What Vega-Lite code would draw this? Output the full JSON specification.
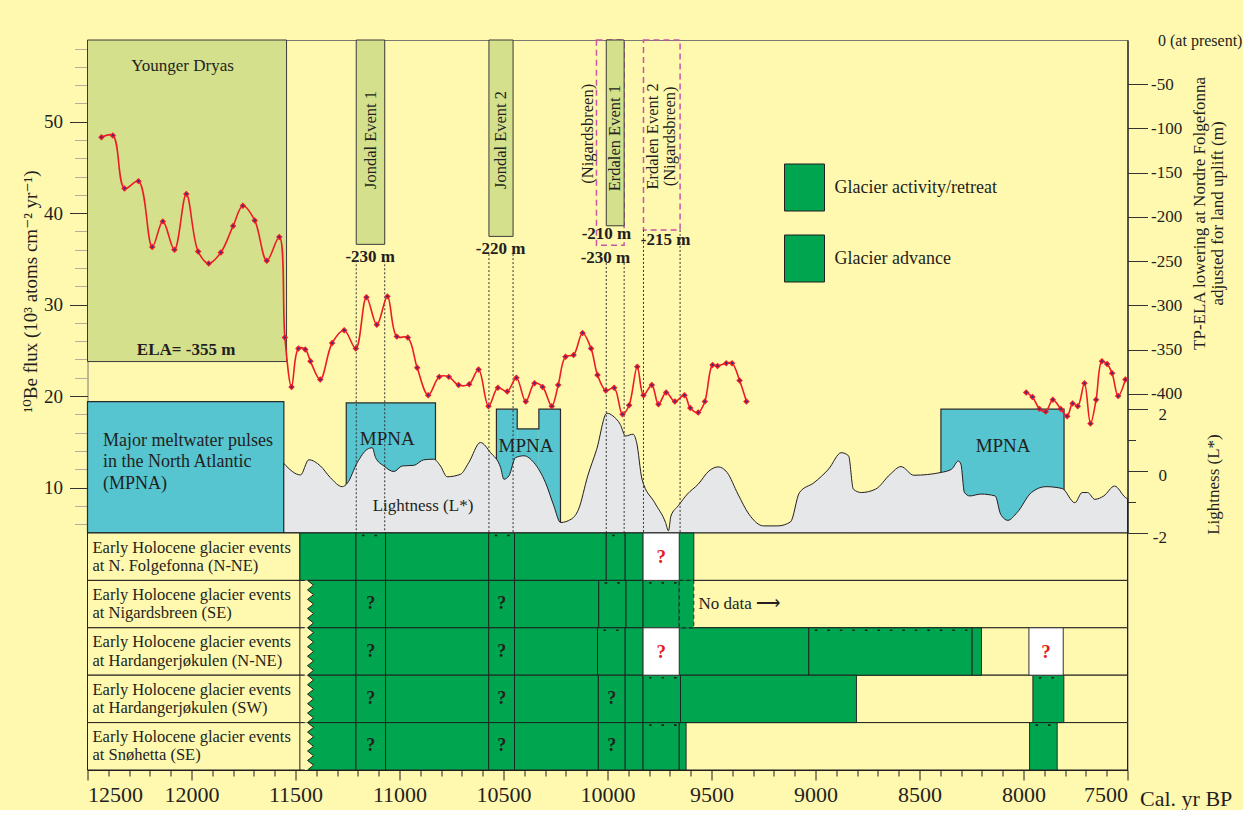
{
  "$schema": "https://vega.github.io/schema/vega-lite/v6.json",
  "background": "#FFF8AF",
  "padding": {"left": 20.5, "top": 31, "right": 0, "bottom": 0},
  "spacing": 0,
  "bounds": "flush",
  "config": {
    "view": {"stroke": "#7a7a72", "strokeWidth": 1},
    "font": "Liberation Serif",
    "text": {"font": "Liberation Serif", "color": "#231F20"}
  },
  "resolve": {"scale": {"y": "independent", "x": "independent", "color": "independent"}},
  "datasets": {
    "flux": [
      {"seg": "A", "year": 12433, "flux": 48.3}, {"seg": "A", "year": 12378, "flux": 48.5},
      {"seg": "A", "year": 12322, "flux": 42.7}, {"seg": "A", "year": 12255, "flux": 43.5},
      {"seg": "A", "year": 12189, "flux": 36.3}, {"seg": "A", "year": 12138, "flux": 39.1},
      {"seg": "A", "year": 12082, "flux": 36.0}, {"seg": "A", "year": 12025, "flux": 42.1},
      {"seg": "A", "year": 11968, "flux": 35.8}, {"seg": "A", "year": 11917, "flux": 34.5},
      {"seg": "A", "year": 11859, "flux": 35.7}, {"seg": "A", "year": 11800, "flux": 38.6},
      {"seg": "A", "year": 11753, "flux": 40.8}, {"seg": "A", "year": 11696, "flux": 39.2},
      {"seg": "A", "year": 11638, "flux": 34.8}, {"seg": "A", "year": 11578, "flux": 37.4},
      {"seg": "A", "year": 11551, "flux": 26.4}, {"seg": "A", "year": 11519, "flux": 21.0},
      {"seg": "A", "year": 11486, "flux": 25.2}, {"seg": "A", "year": 11453, "flux": 25.1},
      {"seg": "A", "year": 11428, "flux": 23.8}, {"seg": "A", "year": 11381, "flux": 21.8},
      {"seg": "A", "year": 11324, "flux": 25.8}, {"seg": "A", "year": 11266, "flux": 27.2},
      {"seg": "A", "year": 11210, "flux": 25.2}, {"seg": "A", "year": 11159, "flux": 30.8},
      {"seg": "A", "year": 11109, "flux": 27.8}, {"seg": "A", "year": 11058, "flux": 30.9},
      {"seg": "A", "year": 11013, "flux": 26.5}, {"seg": "A", "year": 10960, "flux": 26.4},
      {"seg": "A", "year": 10915, "flux": 23.1}, {"seg": "A", "year": 10862, "flux": 20.1},
      {"seg": "A", "year": 10809, "flux": 22.1}, {"seg": "A", "year": 10763, "flux": 22.1},
      {"seg": "A", "year": 10716, "flux": 21.2}, {"seg": "A", "year": 10665, "flux": 21.3},
      {"seg": "A", "year": 10620, "flux": 22.9}, {"seg": "A", "year": 10572, "flux": 18.9},
      {"seg": "A", "year": 10527, "flux": 20.9}, {"seg": "A", "year": 10482, "flux": 20.5},
      {"seg": "A", "year": 10438, "flux": 22.0}, {"seg": "A", "year": 10393, "flux": 19.4},
      {"seg": "A", "year": 10351, "flux": 21.4}, {"seg": "A", "year": 10312, "flux": 21.0},
      {"seg": "A", "year": 10268, "flux": 18.9}, {"seg": "A", "year": 10237, "flux": 21.2},
      {"seg": "A", "year": 10202, "flux": 24.3}, {"seg": "A", "year": 10163, "flux": 24.5},
      {"seg": "A", "year": 10120, "flux": 26.9}, {"seg": "A", "year": 10079, "flux": 25.2},
      {"seg": "A", "year": 10048, "flux": 22.3}, {"seg": "A", "year": 10008, "flux": 20.6},
      {"seg": "A", "year": 9968, "flux": 20.9}, {"seg": "A", "year": 9928, "flux": 18.0},
      {"seg": "A", "year": 9896, "flux": 19.0}, {"seg": "A", "year": 9857, "flux": 23.2},
      {"seg": "A", "year": 9827, "flux": 20.1}, {"seg": "A", "year": 9787, "flux": 21.2},
      {"seg": "A", "year": 9755, "flux": 19.1}, {"seg": "A", "year": 9718, "flux": 20.4},
      {"seg": "A", "year": 9676, "flux": 19.4}, {"seg": "A", "year": 9630, "flux": 20.1},
      {"seg": "A", "year": 9602, "flux": 18.7}, {"seg": "A", "year": 9564, "flux": 18.2},
      {"seg": "A", "year": 9532, "flux": 19.4}, {"seg": "A", "year": 9495, "flux": 23.4},
      {"seg": "A", "year": 9471, "flux": 23.3}, {"seg": "A", "year": 9429, "flux": 23.6},
      {"seg": "A", "year": 9401, "flux": 23.6}, {"seg": "A", "year": 9365, "flux": 21.7},
      {"seg": "A", "year": 9332, "flux": 19.4},
      {"seg": "B", "year": 7987, "flux": 20.4}, {"seg": "B", "year": 7957, "flux": 19.9},
      {"seg": "B", "year": 7923, "flux": 18.6}, {"seg": "B", "year": 7893, "flux": 18.3},
      {"seg": "B", "year": 7859, "flux": 19.6}, {"seg": "B", "year": 7821, "flux": 18.6},
      {"seg": "B", "year": 7790, "flux": 17.8}, {"seg": "B", "year": 7764, "flux": 19.2},
      {"seg": "B", "year": 7739, "flux": 18.9}, {"seg": "B", "year": 7707, "flux": 21.4},
      {"seg": "B", "year": 7678, "flux": 17.0}, {"seg": "B", "year": 7651, "flux": 19.6},
      {"seg": "B", "year": 7623, "flux": 23.8}, {"seg": "B", "year": 7598, "flux": 23.5},
      {"seg": "B", "year": 7574, "flux": 22.5}, {"seg": "B", "year": 7545, "flux": 20.0},
      {"seg": "B", "year": 7510, "flux": 21.8}
    ],
    "lightness": [
      {"year": 11556, "L": 0.24}, {"year": 11476, "L": -0.13}, {"year": 11436, "L": 0.36},
      {"year": 11380, "L": 0.16}, {"year": 11332, "L": -0.22}, {"year": 11275, "L": -0.51},
      {"year": 11251, "L": -0.40}, {"year": 11203, "L": 0.27}, {"year": 11155, "L": 0.70},
      {"year": 11131, "L": 0.75}, {"year": 11115, "L": 0.43}, {"year": 11075, "L": 0.16},
      {"year": 11027, "L": -0.02}, {"year": 10987, "L": 0.16}, {"year": 10931, "L": 0.18},
      {"year": 10883, "L": 0.36}, {"year": 10835, "L": 0.38}, {"year": 10803, "L": 0.16},
      {"year": 10771, "L": -0.19}, {"year": 10707, "L": -0.11}, {"year": 10667, "L": 0.27},
      {"year": 10611, "L": 0.92}, {"year": 10562, "L": 0.59}, {"year": 10514, "L": 0.11},
      {"year": 10498, "L": -0.27}, {"year": 10474, "L": -0.16}, {"year": 10442, "L": 0.43},
      {"year": 10402, "L": 0.49}, {"year": 10354, "L": 0.27}, {"year": 10298, "L": -0.38},
      {"year": 10258, "L": -1.13}, {"year": 10226, "L": -1.67}, {"year": 10174, "L": -1.56},
      {"year": 10139, "L": -1.24}, {"year": 10095, "L": -0.16}, {"year": 10052, "L": 0.70},
      {"year": 10003, "L": 1.87}, {"year": 9974, "L": 1.78}, {"year": 9939, "L": 1.51},
      {"year": 9913, "L": 1.13}, {"year": 9877, "L": 1.19}, {"year": 9860, "L": 0.92},
      {"year": 9834, "L": -0.27}, {"year": 9773, "L": -1.03}, {"year": 9721, "L": -1.67},
      {"year": 9707, "L": -1.94}, {"year": 9695, "L": -1.46}, {"year": 9660, "L": -1.13},
      {"year": 9616, "L": -0.75}, {"year": 9564, "L": -0.43}, {"year": 9512, "L": 0.0},
      {"year": 9468, "L": 0.13}, {"year": 9425, "L": -0.05}, {"year": 9373, "L": -0.75},
      {"year": 9320, "L": -1.40}, {"year": 9250, "L": -1.78}, {"year": 9181, "L": -1.78},
      {"year": 9120, "L": -1.65}, {"year": 9077, "L": -0.70}, {"year": 9007, "L": -0.38},
      {"year": 8937, "L": 0.06}, {"year": 8876, "L": 0.59}, {"year": 8841, "L": 0.49},
      {"year": 8818, "L": -0.59}, {"year": 8780, "L": -0.70}, {"year": 8711, "L": -0.59},
      {"year": 8641, "L": -0.11}, {"year": 8589, "L": 0.14}, {"year": 8527, "L": -0.14},
      {"year": 8397, "L": -0.05}, {"year": 8345, "L": 0.06}, {"year": 8313, "L": 0.32},
      {"year": 8301, "L": 0.22}, {"year": 8284, "L": -0.70}, {"year": 8258, "L": -0.81},
      {"year": 8205, "L": -0.75}, {"year": 8136, "L": -0.81}, {"year": 8110, "L": -1.40},
      {"year": 8075, "L": -1.60}, {"year": 8031, "L": -1.35}, {"year": 7962, "L": -0.70},
      {"year": 7892, "L": -0.51}, {"year": 7814, "L": -0.57}, {"year": 7753, "L": -1.03},
      {"year": 7718, "L": -0.70}, {"year": 7692, "L": -0.70}, {"year": 7657, "L": -0.92},
      {"year": 7614, "L": -0.81}, {"year": 7562, "L": -0.49}, {"year": 7510, "L": -0.86},
      {"year": 7500, "L": -0.90}
    ],
    "mpnaFill": [
      {"year": 12500, "end": 11556, "L": 2.24},
      {"year": 11256, "end": 10827, "L": 2.20},
      {"year": 10534, "end": 10434, "L": 2.0},
      {"year": 10434, "end": 10330, "L": 1.36},
      {"year": 10330, "end": 10226, "L": 2.0},
      {"year": 8397, "end": 7805, "L": 2.0}
    ],
    "mpnaOutline": [
      {"box": 1, "ord": 1, "year": 12500, "L": -2.01}, {"box": 1, "ord": 2, "year": 12500, "L": 2.24},
      {"box": 1, "ord": 3, "year": 11556, "L": 2.24}, {"box": 1, "ord": 4, "year": 11556, "L": -2.01},
      {"box": 1, "ord": 5, "year": 12500, "L": -2.01},
      {"box": 2, "ord": 1, "year": 11256, "L": -2.01}, {"box": 2, "ord": 2, "year": 11256, "L": 2.20},
      {"box": 2, "ord": 3, "year": 10827, "L": 2.20}, {"box": 2, "ord": 4, "year": 10827, "L": -2.01},
      {"box": 3, "ord": 1, "year": 10534, "L": -2.01}, {"box": 3, "ord": 2, "year": 10534, "L": 2.0},
      {"box": 3, "ord": 3, "year": 10434, "L": 2.0}, {"box": 3, "ord": 4, "year": 10434, "L": 1.36},
      {"box": 3, "ord": 5, "year": 10330, "L": 1.36}, {"box": 3, "ord": 6, "year": 10330, "L": 2.0},
      {"box": 3, "ord": 7, "year": 10226, "L": 2.0}, {"box": 3, "ord": 8, "year": 10226, "L": -2.01},
      {"box": 4, "ord": 1, "year": 8397, "L": -2.01}, {"box": 4, "ord": 2, "year": 8397, "L": 2.0},
      {"box": 4, "ord": 3, "year": 7805, "L": 2.0}, {"box": 4, "ord": 4, "year": 7805, "L": -2.01}
    ],
    "mpnaLabels": [
      {"text": "MPNA", "year": 11059, "L": 1.04},
      {"text": "MPNA", "year": 10392, "L": 0.82},
      {"text": "MPNA", "year": 8098, "L": 0.82}
    ],
    "mpnaDesc": [
      {"text": "Major meltwater pulses", "year": 12425, "L": 0.98},
      {"text": "in the North Atlantic", "year": 12425, "L": 0.28},
      {"text": "(MPNA)", "year": 12425, "L": -0.42}
    ],
    "lightLabel": [{"text": "Lightness (L*)", "year": 10887, "L": -1.13}],
    "elaBoxes": [
      {"name": "Younger Dryas", "year": 12500, "end": 11543, "ela": -363.5},
      {"name": "Jondal Event 1", "year": 11208, "end": 11071, "ela": -231},
      {"name": "Jondal Event 2", "year": 10570, "end": 10454, "ela": -222},
      {"name": "Erdalen Event 1", "year": 10006, "end": 9920, "ela": -210}
    ],
    "dashedBoxes": [
      {"name": "Nigardsbreen", "year": 10053, "end": 9920, "ela": -232},
      {"name": "Erdalen Event 2 (Nigardsbreen)", "year": 9827, "end": 9651, "ela": -214.7}
    ],
    "eventLabels": [
      {"text": "Jondal Event 1", "year": 11139, "ela": -113},
      {"text": "Jondal Event 2", "year": 10510, "ela": -113},
      {"text": "Erdalen Event 1", "year": 9962, "ela": -111},
      {"text": "(Nigardsbreen)", "year": 10096, "ela": -106},
      {"text": "Erdalen Event 2", "year": 9780, "ela": -109},
      {"text": "(Nigardsbreen)", "year": 9699, "ela": -109}
    ],
    "boldLabels": [
      {"text": "-230 m", "year": 11141, "ela": -245},
      {"text": "-220 m", "year": 10514, "ela": -236},
      {"text": "-210 m", "year": 10005, "ela": -219},
      {"text": "-230 m", "year": 10010, "ela": -246.5},
      {"text": "-215 m", "year": 9721, "ela": -226},
      {"text": "ELA= -355 m", "year": 12026, "ela": -350}
    ],
    "plainLabels": [{"text": "Younger Dryas", "year": 12043, "ela": -29}],
    "dotted": [
      {"year": 11208, "ela": -249}, {"year": 11071, "ela": -249},
      {"year": 10570, "ela": -242}, {"year": 10454, "ela": -242},
      {"year": 10006, "ela": -252}, {"year": 9920, "ela": -252},
      {"year": 9827, "ela": -214.7}, {"year": 9651, "ela": -214.7}
    ],
    "rows": [
      {"row": "r1", "label": "Early Holocene glacier events\nat  N. Folgefonna (N-NE)"},
      {"row": "r2", "label": "Early Holocene glacier events\nat  Nigardsbreen (SE)"},
      {"row": "r3", "label": "Early Holocene glacier events\nat  Hardangerjøkulen (N-NE)"},
      {"row": "r4", "label": "Early Holocene glacier events\nat  Hardangerjøkulen (SW)"},
      {"row": "r5", "label": "Early Holocene glacier events\nat  Snøhetta (SE)"}
    ],
    "segs": [
      {"row": "r1", "year": 11479, "end": 11209, "kind": "Glacier activity/retreat"},
      {"row": "r1", "year": 11209, "end": 11067, "kind": "Glacier advance"},
      {"row": "r1", "year": 11067, "end": 10571, "kind": "Glacier activity/retreat"},
      {"row": "r1", "year": 10571, "end": 10447, "kind": "Glacier advance"},
      {"row": "r1", "year": 10447, "end": 10006, "kind": "Glacier activity/retreat"},
      {"row": "r1", "year": 10006, "end": 9915, "kind": "Glacier advance"},
      {"row": "r1", "year": 9915, "end": 9829, "kind": "Glacier activity/retreat"},
      {"row": "r1", "year": 9655, "end": 9585, "kind": "Glacier activity/retreat"},
      {"row": "r2", "year": 11442, "end": 11209, "kind": "Glacier activity/retreat"},
      {"row": "r2", "year": 11209, "end": 11067, "kind": "Glacier activity/retreat"},
      {"row": "r2", "year": 11067, "end": 10571, "kind": "Glacier activity/retreat"},
      {"row": "r2", "year": 10571, "end": 10447, "kind": "Glacier activity/retreat"},
      {"row": "r2", "year": 10447, "end": 10042, "kind": "Glacier activity/retreat"},
      {"row": "r2", "year": 10042, "end": 9911, "kind": "Glacier advance"},
      {"row": "r2", "year": 9911, "end": 9829, "kind": "Glacier activity/retreat"},
      {"row": "r2", "year": 9829, "end": 9655, "kind": "Glacier advance"},
      {"row": "r2", "year": 9655, "end": 9585, "kind": "Glacier activity/retreat", "open": true},
      {"row": "r3", "year": 11442, "end": 11209, "kind": "Glacier activity/retreat"},
      {"row": "r3", "year": 11209, "end": 11067, "kind": "Glacier activity/retreat"},
      {"row": "r3", "year": 11067, "end": 10571, "kind": "Glacier activity/retreat"},
      {"row": "r3", "year": 10571, "end": 10447, "kind": "Glacier activity/retreat"},
      {"row": "r3", "year": 10447, "end": 10048, "kind": "Glacier activity/retreat"},
      {"row": "r3", "year": 10048, "end": 9915, "kind": "Glacier advance"},
      {"row": "r3", "year": 9915, "end": 9829, "kind": "Glacier activity/retreat"},
      {"row": "r3", "year": 9655, "end": 9032, "kind": "Glacier activity/retreat"},
      {"row": "r3", "year": 9032, "end": 8247, "kind": "Glacier advance"},
      {"row": "r3", "year": 8247, "end": 8202, "kind": "Glacier activity/retreat"},
      {"row": "r4", "year": 11442, "end": 11209, "kind": "Glacier activity/retreat"},
      {"row": "r4", "year": 11209, "end": 11067, "kind": "Glacier activity/retreat"},
      {"row": "r4", "year": 11067, "end": 10571, "kind": "Glacier activity/retreat"},
      {"row": "r4", "year": 10571, "end": 10447, "kind": "Glacier activity/retreat"},
      {"row": "r4", "year": 10447, "end": 10044, "kind": "Glacier activity/retreat"},
      {"row": "r4", "year": 10044, "end": 9915, "kind": "Glacier activity/retreat"},
      {"row": "r4", "year": 9915, "end": 9829, "kind": "Glacier activity/retreat"},
      {"row": "r4", "year": 9829, "end": 9649, "kind": "Glacier advance"},
      {"row": "r4", "year": 9649, "end": 8803, "kind": "Glacier activity/retreat"},
      {"row": "r4", "year": 7955, "end": 7806, "kind": "Glacier advance"},
      {"row": "r5", "year": 11442, "end": 11209, "kind": "Glacier activity/retreat"},
      {"row": "r5", "year": 11209, "end": 11067, "kind": "Glacier activity/retreat"},
      {"row": "r5", "year": 11067, "end": 10571, "kind": "Glacier activity/retreat"},
      {"row": "r5", "year": 10571, "end": 10447, "kind": "Glacier activity/retreat"},
      {"row": "r5", "year": 10447, "end": 10044, "kind": "Glacier activity/retreat"},
      {"row": "r5", "year": 10044, "end": 9915, "kind": "Glacier activity/retreat"},
      {"row": "r5", "year": 9915, "end": 9829, "kind": "Glacier activity/retreat"},
      {"row": "r5", "year": 9829, "end": 9655, "kind": "Glacier advance"},
      {"row": "r5", "year": 9655, "end": 9622, "kind": "Glacier activity/retreat"},
      {"row": "r5", "year": 7971, "end": 7838, "kind": "Glacier advance"}
    ],
    "unknown": [
      {"row": "r1", "year": 9829, "end": 9655, "mid": 9742},
      {"row": "r3", "year": 9829, "end": 9655, "mid": 9742},
      {"row": "r3", "year": 7974, "end": 7809, "mid": 7892}
    ],
    "uncertain": [
      {"row": "r2", "mid": 11138}, {"row": "r2", "mid": 10509},
      {"row": "r3", "mid": 11138}, {"row": "r3", "mid": 10509},
      {"row": "r4", "mid": 11138}, {"row": "r4", "mid": 10509}, {"row": "r4", "mid": 9980},
      {"row": "r5", "mid": 11138}, {"row": "r5", "mid": 10509}, {"row": "r5", "mid": 9980}
    ],
    "recordStart": [
      {"row": "r2", "year": 11442}, {"row": "r3", "year": 11442},
      {"row": "r4", "year": 11442}, {"row": "r5", "year": 11442}
    ],
    "noData": [{"row": "r2", "year": 9563, "text": "No data ⟶"}]
  },
  "vconcat": [
    {
      "width": 1040,
      "height": 493,
      "layer": [
        {
          "layer": [
            {
              "data": {"name": "dashedBoxes"},
              "mark": {"type": "rect", "filled": false, "stroke": "#C857A6", "strokeWidth": 1.5, "strokeDash": [6, 4]},
              "encoding": {
                "x": {"field": "year", "type": "quantitative", "scale": {"domain": [7500, 12500], "reverse": true, "nice": false, "zero": false}, "axis": null},
                "x2": {"field": "end"},
                "y": {"field": "ela", "type": "quantitative", "scale": {"domain": [-557.3, 0], "nice": false, "zero": false}, "axis": null},
                "y2": {"datum": 0}
              }
            },
            {
              "data": {"name": "elaBoxes"},
              "mark": {"type": "rect", "fill": "#D4E08C", "stroke": "#3a3a3a", "strokeWidth": 1},
              "encoding": {
                "x": {"field": "year", "type": "quantitative", "scale": {"domain": [7500, 12500], "reverse": true, "nice": false, "zero": false}, "axis": null},
                "x2": {"field": "end"},
                "y": {
                  "field": "ela", "type": "quantitative",
                  "scale": {"domain": [-557.3, 0], "nice": false, "zero": false},
                  "axis": {
                    "orient": "right",
                    "values": [0],
                    "labelExpr": "'0 (at present)'",
                    "ticks": false,
                    "labelPadding": 30,
                    "labelAlign": "left",
                    "labelFont": "Liberation Serif",
                    "labelFontSize": 16,
                    "labelColor": "#231F20",
                    "labelOverlap": false,
                    "domain": false,
                    "grid": false,
                    "title": null
                  }
                },
                "y2": {"datum": 0}
              }
            },
            {
              "data": {"name": "eventLabels"},
              "mark": {"type": "text", "angle": 270, "fontSize": 16.5, "align": "center", "baseline": "middle", "color": "#231F20"},
              "encoding": {
                "x": {"field": "year", "type": "quantitative", "scale": {"domain": [7500, 12500], "reverse": true, "nice": false, "zero": false}, "axis": null},
                "y": {"field": "ela", "type": "quantitative", "scale": {"domain": [-557.3, 0], "nice": false, "zero": false}, "axis": null},
                "text": {"field": "text"}
              }
            },
            {
              "data": {"name": "boldLabels"},
              "mark": {"type": "text", "fontSize": 17, "fontWeight": "bold", "align": "center", "baseline": "middle", "color": "#231F20"},
              "encoding": {
                "x": {"field": "year", "type": "quantitative", "scale": {"domain": [7500, 12500], "reverse": true, "nice": false, "zero": false}, "axis": null},
                "y": {"field": "ela", "type": "quantitative", "scale": {"domain": [-557.3, 0], "nice": false, "zero": false}, "axis": null},
                "text": {"field": "text"}
              }
            },
            {
              "data": {"name": "plainLabels"},
              "mark": {"type": "text", "fontSize": 17, "align": "center", "baseline": "middle", "color": "#231F20"},
              "encoding": {
                "x": {"field": "year", "type": "quantitative", "scale": {"domain": [7500, 12500], "reverse": true, "nice": false, "zero": false}, "axis": null},
                "y": {"field": "ela", "type": "quantitative", "scale": {"domain": [-557.3, 0], "nice": false, "zero": false}, "axis": null},
                "text": {"field": "text"}
              }
            }
          ],
          "resolve": {"axis": {"y": "independent"}}
        },
        {
          "layer": [
            {
              "data": {"name": "mpnaFill"},
              "mark": {"type": "rect", "fill": "#56C5D0", "strokeWidth": 0},
              "encoding": {
                "x": {"field": "year", "type": "quantitative", "scale": {"domain": [7500, 12500], "reverse": true, "nice": false, "zero": false}, "axis": null},
                "x2": {"field": "end"},
                "y": {"field": "L", "type": "quantitative", "scale": {"domain": [-2.01, 13.95], "nice": false, "zero": false}, "axis": null},
                "y2": {"datum": -2.01}
              }
            },
            {
              "data": {"name": "mpnaOutline"},
              "mark": {"type": "line", "stroke": "#2b2b2b", "strokeWidth": 1.2},
              "encoding": {
                "x": {"field": "year", "type": "quantitative", "scale": {"domain": [7500, 12500], "reverse": true, "nice": false, "zero": false}, "axis": null},
                "y": {"field": "L", "type": "quantitative", "scale": {"domain": [-2.01, 13.95], "nice": false, "zero": false}, "axis": null},
                "detail": {"field": "box", "type": "nominal"},
                "order": {"field": "ord", "type": "quantitative"}
              }
            },
            {
              "data": {"name": "lightness"},
              "mark": {"type": "area", "interpolate": "monotone", "fill": "#E6E7E8", "stroke": "#231F20", "strokeWidth": 1},
              "encoding": {
                "x": {"field": "year", "type": "quantitative", "scale": {"domain": [7500, 12500], "reverse": true, "nice": false, "zero": false}, "axis": null},
                "y": {
                  "field": "L", "type": "quantitative",
                  "scale": {"domain": [-2.01, 13.95], "nice": false, "zero": false},
                  "axis": {
                    "orient": "right",
                    "values": [2, 0, -2],
                    "labelExpr": "(datum.value < 0 ? '-' : '') + abs(datum.value)",
                    "tickSize": 20,
                    "tickColor": "#333333",
                    "labelPadding": 19,
                    "labelAlign": "right",
                    "labelOffset": 5,
                    "labelFont": "Liberation Serif",
                    "labelFontSize": 17,
                    "labelColor": "#231F20",
                    "labelOverlap": false,
                    "domainColor": "#333333",
                    "grid": false,
                    "title": "Lightness (L*)",
                    "titleFont": "Liberation Serif",
                    "titleFontSize": 17,
                    "titleFontWeight": "normal",
                    "titleColor": "#231F20",
                    "titleAngle": 270,
                    "titleX": 86,
                    "titleY": 444,
                    "titleAlign": "center",
                    "titleBaseline": "middle"
                  }
                },
                "y2": {"datum": -2.01}
              }
            },
            {
              "data": {"name": "mpnaLabels"},
              "mark": {"type": "text", "fontSize": 19, "align": "center", "baseline": "middle", "color": "#231F20"},
              "encoding": {
                "x": {"field": "year", "type": "quantitative", "scale": {"domain": [7500, 12500], "reverse": true, "nice": false, "zero": false}, "axis": null},
                "y": {
                  "field": "L", "type": "quantitative",
                  "scale": {"domain": [-2.01, 13.95], "nice": false, "zero": false},
                  "axis": {
                    "orient": "right",
                    "values": [1, -1],
                    "tickSize": 8,
                    "tickColor": "#333333",
                    "labels": false,
                    "domain": false,
                    "grid": false,
                    "title": null
                  }
                },
                "text": {"field": "text"}
              }
            },
            {
              "data": {"name": "mpnaDesc"},
              "mark": {"type": "text", "fontSize": 18, "align": "left", "baseline": "middle", "color": "#231F20"},
              "encoding": {
                "x": {"field": "year", "type": "quantitative", "scale": {"domain": [7500, 12500], "reverse": true, "nice": false, "zero": false}, "axis": null},
                "y": {"field": "L", "type": "quantitative", "scale": {"domain": [-2.01, 13.95], "nice": false, "zero": false}, "axis": null},
                "text": {"field": "text"}
              }
            },
            {
              "data": {"name": "lightLabel"},
              "mark": {"type": "text", "fontSize": 17, "align": "center", "baseline": "middle", "color": "#231F20"},
              "encoding": {
                "x": {"field": "year", "type": "quantitative", "scale": {"domain": [7500, 12500], "reverse": true, "nice": false, "zero": false}, "axis": null},
                "y": {"field": "L", "type": "quantitative", "scale": {"domain": [-2.01, 13.95], "nice": false, "zero": false}, "axis": null},
                "text": {"field": "text"}
              }
            }
          ],
          "resolve": {"axis": {"y": "independent"}}
        },
        {
          "data": {"name": "dotted"},
          "mark": {"type": "rule", "stroke": "#333333", "strokeWidth": 1, "strokeDash": [2, 2]},
          "encoding": {
            "x": {"field": "year", "type": "quantitative", "scale": {"domain": [7500, 12500], "reverse": true, "nice": false, "zero": false}, "axis": null},
            "y": {
              "field": "ela", "type": "quantitative",
              "scale": {"domain": [-557.3, 0], "nice": false, "zero": false},
              "axis": {
                "orient": "right",
                "values": [-50, -100, -150, -200, -250, -300, -350, -400],
                "labelExpr": "'-' + abs(datum.value)",
                "tickSize": 20,
                "tickColor": "#333333",
                "labelPadding": 3,
                "labelFont": "Liberation Serif",
                "labelFontSize": 17,
                "labelColor": "#231F20",
                "labelOverlap": false,
                "domainColor": "#333333",
                "grid": false,
                "title": ["TP-ELA lowering at Nordre Folgefonna", "adjusted for land uplift (m)"],
                "titleFont": "Liberation Serif",
                "titleFontSize": 17,
                "titleFontWeight": "normal",
                "titleColor": "#231F20",
                "titleAngle": 270,
                "titleX": 72,
                "titleY": 173,
                "titleAlign": "center",
                "titleBaseline": "middle",
                "titleLineHeight": 18
              }
            },
            "y2": {"datum": -557.3}
          }
        },
        {
          "layer": [
            {
              "data": {"name": "flux"},
              "mark": {"type": "line", "interpolate": "catmull-rom", "stroke": "#ED1C24", "strokeWidth": 1.6},
              "encoding": {
                "x": {"field": "year", "type": "quantitative", "scale": {"domain": [7500, 12500], "reverse": true, "nice": false, "zero": false}, "axis": null},
                "y": {
                  "field": "flux", "type": "quantitative",
                  "scale": {"domain": [5.03, 58.93], "nice": false, "zero": false},
                  "axis": {
                    "orient": "left",
                    "values": [10, 20, 30, 40, 50],
                    "tickSize": 18,
                    "tickColor": "#333333",
                    "labelPadding": 7,
                    "labelFont": "Liberation Serif",
                    "labelFontSize": 19,
                    "labelColor": "#231F20",
                    "labelOverlap": false,
                    "domain": false,
                    "grid": false,
                    "title": "¹⁰Be flux (10³ atoms cm⁻² yr⁻¹)",
                    "titleFont": "Liberation Serif, DejaVu Serif",
                    "titleFontSize": 19,
                    "titleFontWeight": "normal",
                    "titleColor": "#231F20",
                    "titleAngle": 270,
                    "titleX": -57,
                    "titleY": 251,
                    "titleAlign": "center",
                    "titleBaseline": "middle"
                  }
                },
                "detail": {"field": "seg", "type": "nominal"}
              }
            },
            {
              "data": {"name": "flux"},
              "mark": {"type": "point", "shape": "diamond", "filled": true, "size": 42, "color": "#ED1C24", "opacity": 1},
              "encoding": {
                "x": {"field": "year", "type": "quantitative", "scale": {"domain": [7500, 12500], "reverse": true, "nice": false, "zero": false}, "axis": null},
                "y": {
                  "field": "flux", "type": "quantitative",
                  "scale": {"domain": [5.03, 58.93], "nice": false, "zero": false},
                  "axis": {
                    "orient": "left",
                    "values": [6, 8, 12, 14, 16, 18, 22, 24, 26, 28, 32, 34, 36, 38, 42, 44, 46, 48, 52, 54, 56, 58],
                    "tickSize": 13,
                    "tickColor": "#b3b09a",
                    "labels": false,
                    "domain": false,
                    "grid": false,
                    "title": null
                  }
                }
              }
            },
            {
              "data": {"name": "flux"},
              "mark": {"type": "point", "shape": "circle", "filled": true, "size": 5, "color": "#2E3192", "opacity": 1},
              "encoding": {
                "x": {"field": "year", "type": "quantitative", "scale": {"domain": [7500, 12500], "reverse": true, "nice": false, "zero": false}, "axis": null},
                "y": {"field": "flux", "type": "quantitative", "scale": {"domain": [5.03, 58.93], "nice": false, "zero": false}, "axis": null}
              }
            }
          ],
          "resolve": {"axis": {"y": "independent"}}
        }
      ],
      "resolve": {"scale": {"y": "independent"}, "axis": {"y": "independent"}}
    },
    {
      "width": 1040,
      "height": 237,
      "resolve": {"axis": {"x": "independent"}},
      "layer": [
        {
          "data": {"name": "rows"},
          "mark": {"type": "rect", "fill": "#FFF8AF", "stroke": "#231F20", "strokeWidth": 1},
          "encoding": {
            "x": {"datum": 12500, "type": "quantitative", "scale": {"domain": [7500, 12500], "reverse": true, "nice": false, "zero": false}, "axis": null},
            "x2": {"datum": 7500},
            "y": {"field": "row", "type": "nominal", "scale": {"domain": ["r1", "r2", "r3", "r4", "r5"], "paddingInner": 0, "paddingOuter": 0}, "axis": null}
          }
        },
        {
          "data": {"name": "rows"},
          "mark": {"type": "rect", "fill": "#FFF8AF", "stroke": "#231F20", "strokeWidth": 1},
          "encoding": {
            "x": {"datum": 12500, "type": "quantitative", "scale": {"domain": [7500, 12500], "reverse": true, "nice": false, "zero": false}, "axis": null},
            "x2": {"datum": 11479},
            "y": {"field": "row", "type": "nominal", "scale": {"domain": ["r1", "r2", "r3", "r4", "r5"], "paddingInner": 0, "paddingOuter": 0}, "axis": null}
          }
        },
        {
          "data": {"name": "segs"},
          "transform": [{"filter": "!datum.open"}],
          "mark": {"type": "rect", "stroke": "#1e1e1e", "strokeWidth": 0.9, "opacity": 1},
          "encoding": {
            "x": {
              "field": "year", "type": "quantitative",
              "scale": {"domain": [7500, 12500], "reverse": true, "nice": false, "zero": false},
              "axis": {
                "orient": "bottom",
                "values": [7500, 8000, 8500, 9000, 9500, 10000, 10500, 11000, 11500, 12000, 12500],
                "format": "d",
                "tickSize": 10,
                "tickColor": "#231F20",
                "domainColor": "#231F20",
                "labelPadding": 4,
                "labelFont": "Liberation Serif",
                "labelFontSize": 22,
                "labelColor": "#231F20",
                "labelOverlap": false,
                "grid": false,
                "title": "Cal. yr BP",
                "titleFont": "Liberation Serif",
                "titleFontSize": 22,
                "titleFontWeight": "normal",
                "titleColor": "#231F20",
                "titleX": 1052,
                "titleY": 28,
                "titleAlign": "left",
                "titleBaseline": "middle"
              }
            },
            "x2": {"field": "end"},
            "y": {"field": "row", "type": "nominal", "scale": {"domain": ["r1", "r2", "r3", "r4", "r5"], "paddingInner": 0, "paddingOuter": 0}, "axis": null},
            "color": {
              "field": "kind", "type": "nominal",
              "scale": {"domain": ["Glacier activity/retreat", "Glacier advance"], "range": ["#00A54F", "#00A54F"]},
              "legend": {
                "title": null,
                "orient": "none",
                "legendX": 693,
                "legendY": -369.5,
                "direction": "vertical",
                "symbolType": "M-0.851,-1H0.851V1H-0.851Z",
                "symbolSize": 2209,
                "symbolStrokeColor": "#231F20",
                "symbolStrokeWidth": 1,
                "symbolOpacity": 1,
                "labelFont": "Liberation Serif",
                "labelFontSize": 18,
                "labelColor": "#231F20",
                "labelOffset": 6,
                "labelLimit": 400,
                "rowPadding": 19
              }
            }
          }
        },
        {
          "data": {"name": "segs"},
          "transform": [{"filter": "datum.open"}],
          "mark": {"type": "rect", "fill": "#00A54F", "stroke": "#1e1e1e", "strokeWidth": 0.9, "strokeDash": [4, 3]},
          "encoding": {
            "x": {"field": "year", "type": "quantitative", "scale": {"domain": [7500, 12500], "reverse": true, "nice": false, "zero": false}, "axis": null},
            "x2": {"field": "end"},
            "y": {"field": "row", "type": "nominal", "scale": {"domain": ["r1", "r2", "r3", "r4", "r5"], "paddingInner": 0, "paddingOuter": 0}, "axis": null}
          }
        },
        {
          "data": {"name": "unknown"},
          "mark": {"type": "rect", "fill": "#FFFFFF", "stroke": "#333333", "strokeWidth": 1},
          "encoding": {
            "x": {"field": "year", "type": "quantitative", "scale": {"domain": [7500, 12500], "reverse": true, "nice": false, "zero": false}, "axis": null},
            "x2": {"field": "end"},
            "y": {"field": "row", "type": "nominal", "scale": {"domain": ["r1", "r2", "r3", "r4", "r5"], "paddingInner": 0, "paddingOuter": 0}, "axis": null}
          }
        },
        {
          "data": {"name": "segs"},
          "transform": [{"filter": "datum.kind === 'Glacier advance'"}],
          "mark": {"type": "rule", "stroke": "#1e1e1e", "strokeWidth": 1.6, "strokeDash": [2.5, 10], "strokeDashOffset": -6, "yOffset": 2.5},
          "encoding": {
            "x": {"field": "year", "type": "quantitative", "scale": {"domain": [7500, 12500], "reverse": true, "nice": false, "zero": false}, "axis": null},
            "x2": {"field": "end"},
            "y": {"field": "row", "type": "nominal", "bandPosition": 0, "scale": {"domain": ["r1", "r2", "r3", "r4", "r5"], "paddingInner": 0, "paddingOuter": 0}, "axis": null}
          }
        },
        {
          "data": {"name": "recordStart"},
          "mark": {"type": "point", "shape": "M-0.12,-1L0,-1L0.254,-0.8L0,-0.6L0.254,-0.4L0,-0.2L0.254,0L0,0.2L0.254,0.4L0,0.6L0.254,0.8L0,1L-0.12,1Z", "size": 2237, "filled": true, "fill": "#FFF8AF", "strokeWidth": 0, "opacity": 1},
          "encoding": {
            "x": {"field": "year", "type": "quantitative", "scale": {"domain": [7500, 12500], "reverse": true, "nice": false, "zero": false}, "axis": null},
            "y": {"field": "row", "type": "nominal", "scale": {"domain": ["r1", "r2", "r3", "r4", "r5"], "paddingInner": 0, "paddingOuter": 0}, "axis": null}
          }
        },
        {
          "data": {"name": "recordStart"},
          "mark": {"type": "point", "shape": "M0,-1L0.254,-0.8L0,-0.6L0.254,-0.4L0,-0.2L0.254,0L0,0.2L0.254,0.4L0,0.6L0.254,0.8L0,1", "size": 2237, "filled": false, "stroke": "#231F20", "strokeWidth": 1, "opacity": 1},
          "encoding": {
            "x": {"field": "year", "type": "quantitative", "scale": {"domain": [7500, 12500], "reverse": true, "nice": false, "zero": false}, "axis": null},
            "y": {"field": "row", "type": "nominal", "scale": {"domain": ["r1", "r2", "r3", "r4", "r5"], "paddingInner": 0, "paddingOuter": 0}, "axis": null}
          }
        },
        {
          "data": {"name": "uncertain"},
          "mark": {"type": "text", "text": "?", "fontSize": 18, "fontWeight": "bold", "align": "center", "baseline": "middle", "color": "#231F20"},
          "encoding": {
            "x": {
              "field": "mid", "type": "quantitative",
              "scale": {"domain": [7500, 12500], "reverse": true, "nice": false, "zero": false},
              "axis": {
                "orient": "bottom",
                "values": [7600, 7700, 7800, 7900, 8100, 8200, 8300, 8400, 8600, 8700, 8800, 8900, 9100, 9200, 9300, 9400, 9600, 9700, 9800, 9900, 10100, 10200, 10300, 10400, 10600, 10700, 10800, 10900, 11100, 11200, 11300, 11400, 11600, 11700, 11800, 11900, 12100, 12200, 12300, 12400],
                "tickSize": 6,
                "tickColor": "#231F20",
                "labels": false,
                "domain": false,
                "grid": false,
                "title": null
              }
            },
            "y": {"field": "row", "type": "nominal", "scale": {"domain": ["r1", "r2", "r3", "r4", "r5"], "paddingInner": 0, "paddingOuter": 0}, "axis": null}
          }
        },
        {
          "data": {"name": "unknown"},
          "mark": {"type": "text", "text": "?", "fontSize": 19, "fontWeight": "bold", "align": "center", "baseline": "middle", "color": "#E31E24"},
          "encoding": {
            "x": {"field": "mid", "type": "quantitative", "scale": {"domain": [7500, 12500], "reverse": true, "nice": false, "zero": false}, "axis": null},
            "y": {"field": "row", "type": "nominal", "scale": {"domain": ["r1", "r2", "r3", "r4", "r5"], "paddingInner": 0, "paddingOuter": 0}, "axis": null}
          }
        },
        {
          "data": {"name": "rows"},
          "mark": {"type": "text", "fontSize": 16.5, "align": "left", "baseline": "middle", "lineBreak": "\n", "lineHeight": 18.4, "dy": -9.2, "color": "#231F20"},
          "encoding": {
            "x": {"datum": 12476, "type": "quantitative", "scale": {"domain": [7500, 12500], "reverse": true, "nice": false, "zero": false}, "axis": null},
            "y": {"field": "row", "type": "nominal", "scale": {"domain": ["r1", "r2", "r3", "r4", "r5"], "paddingInner": 0, "paddingOuter": 0}, "axis": null},
            "text": {"field": "label"}
          }
        },
        {
          "data": {"name": "noData"},
          "mark": {"type": "text", "fontSize": 17, "align": "left", "baseline": "middle", "color": "#231F20"},
          "encoding": {
            "x": {"field": "year", "type": "quantitative", "scale": {"domain": [7500, 12500], "reverse": true, "nice": false, "zero": false}, "axis": null},
            "y": {"field": "row", "type": "nominal", "scale": {"domain": ["r1", "r2", "r3", "r4", "r5"], "paddingInner": 0, "paddingOuter": 0}, "axis": null},
            "text": {"field": "text"}
          }
        }
      ]
    }
  ]
}
